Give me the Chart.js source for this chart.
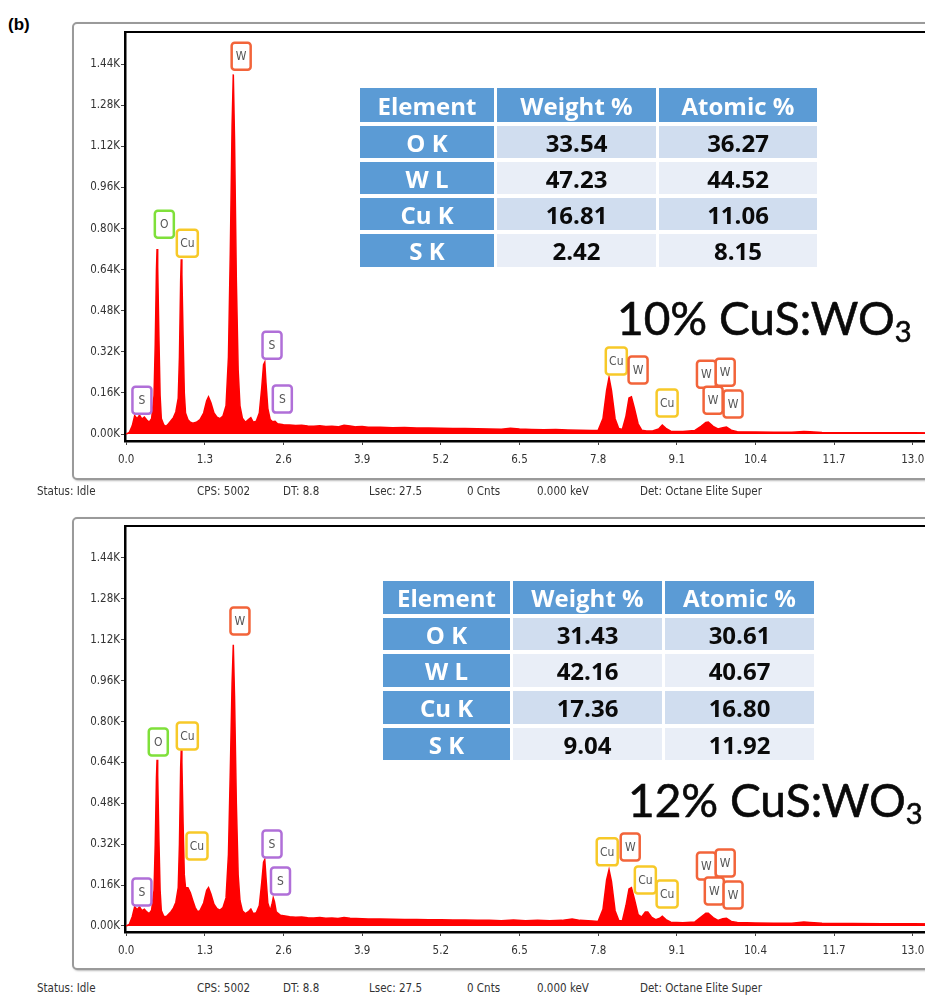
<!DOCTYPE html>
<html>
<head>
<meta charset="utf-8">
<script src="https://cdn.jsdelivr.net/npm/chart.js@4.4.1/dist/chart.umd.min.js"></script>
<style>
  html, body { margin:0; padding:0; background:#fff; width:925px; height:999px; overflow:hidden; position:relative; }
  .abs { position:absolute; }
  .frame { position:absolute; border:2px solid #9a9a9a; border-radius:5px; box-shadow:1px 1px 2px #bbb; background:#fff; }
  canvas { position:absolute; left:0; }
  .status { position:absolute; font-family:"DejaVu Sans Condensed","DejaVu Sans",sans-serif; font-size:11.5px; color:#333; white-space:nowrap; }
  .tbl { position:absolute; display:grid; font-family:"Open Sans",sans-serif; font-weight:700; }
  .tbl div { display:flex; align-items:center; justify-content:center; font-size:24px; }
  .hd { background:#5b9bd5; color:#fff; }
  .el { background:#5b9bd5; color:#fff; }
  .r1 { background:#d0ddef; color:#0a0a0a; }
  .r2 { background:#e9eef7; color:#0a0a0a; }
  .big { position:absolute; font-family:Lato,sans-serif; font-size:46px; color:#0a0a0a; white-space:nowrap; line-height:1; -webkit-text-stroke:0.6px #0a0a0a; }
  .big sub { font-size:29px; vertical-align:-7px; line-height:0; }
</style>
</head>
<body>
<div class="abs" style="left:8px;top:15px;font-family:'Liberation Sans',Arial,sans-serif;font-weight:700;font-size:17px;">(b)</div>

<div class="frame" style="left:72px;top:22px;width:900px;height:454px;"></div>
<div class="frame" style="left:72px;top:517px;width:900px;height:449px;"></div>

<canvas id="c1" width="960" height="480" style="top:0px"></canvas>
<canvas id="c2" width="960" height="480" style="top:494px"></canvas>

<div id="overlay"></div>

<script>
// ---------------- DATA ----------------
const xTickValues = [0, 1.3, 2.6, 3.9, 5.2, 6.5, 7.8, 9.1, 10.4, 11.7, 13.0];
const xTickLabels = ['0.0','1.3','2.6','3.9','5.2','6.5','7.8','9.1','10.4','11.7','13.0'];
const yTickValues = [0, 160, 320, 480, 640, 800, 960, 1120, 1280, 1440];
const yTickLabels = ['0.00K','0.16K','0.32K','0.48K','0.64K','0.80K','0.96K','1.12K','1.28K','1.44K'];

// Spectrum 1: 10% CuS:WO3 (energy keV, counts)
const energy10 = [0.00,0.05,0.10,0.14,0.18,0.22,0.26,0.30,0.34,0.38,0.42,0.46,0.48,0.50,0.51,0.52,0.54,0.56,0.58,0.62,0.66,0.70,0.74,0.78,0.82,0.86,0.88,0.90,0.91,0.92,0.94,0.96,0.98,1.02,1.06,1.10,1.16,1.22,1.28,1.33,1.36,1.40,1.45,1.50,1.55,1.60,1.65,1.69,1.72,1.75,1.77,1.79,1.82,1.85,1.88,1.92,1.97,2.02,2.06,2.10,2.15,2.20,2.24,2.27,2.29,2.31,2.34,2.38,2.42,2.46,2.50,2.60,2.70,2.80,2.90,3.00,3.10,3.20,3.30,3.40,3.50,3.60,3.70,3.80,3.90,4.00,4.20,4.40,4.60,4.80,5.00,5.20,5.40,5.60,5.80,6.00,6.20,6.35,6.50,6.70,6.90,7.10,7.30,7.50,7.70,7.80,7.88,7.94,7.98,8.02,8.08,8.14,8.20,8.26,8.31,8.35,8.40,8.46,8.52,8.60,8.70,8.80,8.86,8.92,9.00,9.20,9.40,9.50,9.58,9.62,9.70,9.78,9.86,9.92,10.00,10.10,10.40,10.70,11.00,11.20,11.30,11.50,12.00,12.50,13.00,13.50];
const counts10 = [0,6,32,72,60,74,58,66,55,46,60,150,350,640,720,650,380,150,60,36,30,40,52,64,86,140,300,600,680,620,380,160,82,56,46,42,46,56,82,130,145,122,82,66,60,70,110,300,700,1200,1400,1150,600,250,110,62,46,56,64,46,50,82,180,270,280,200,100,56,48,50,40,36,35,33,34,31,30,32,29,30,28,34,31,28,29,27,27,25,26,24,24,23,22,22,21,20,19,23,20,18,17,18,16,15,14,15,60,170,220,170,60,22,18,70,140,145,100,40,15,12,12,20,35,22,11,10,14,30,45,47,30,20,25,27,15,9,8,7,7,10,9,6,5,5,5,4];

// Spectrum 2: 12% CuS:WO3
const energy12 = [0.00,0.05,0.10,0.14,0.18,0.22,0.26,0.30,0.34,0.38,0.42,0.46,0.48,0.50,0.51,0.52,0.54,0.56,0.58,0.62,0.66,0.70,0.74,0.78,0.82,0.86,0.88,0.90,0.91,0.92,0.94,0.96,0.98,1.02,1.06,1.10,1.14,1.18,1.22,1.28,1.33,1.36,1.40,1.45,1.50,1.55,1.60,1.65,1.69,1.72,1.75,1.77,1.79,1.82,1.85,1.88,1.92,1.97,2.02,2.06,2.10,2.15,2.20,2.24,2.27,2.29,2.31,2.34,2.38,2.41,2.43,2.45,2.48,2.55,2.70,2.80,2.90,3.00,3.10,3.20,3.30,3.40,3.50,3.60,3.70,3.80,3.90,4.00,4.20,4.40,4.60,4.80,5.00,5.20,5.40,5.60,5.80,6.00,6.20,6.40,6.60,6.80,7.00,7.20,7.37,7.50,7.70,7.80,7.88,7.94,7.98,8.02,8.08,8.14,8.20,8.26,8.31,8.35,8.40,8.46,8.52,8.58,8.62,8.68,8.75,8.82,8.86,8.92,9.00,9.20,9.40,9.50,9.58,9.62,9.70,9.78,9.86,9.92,10.00,10.10,10.40,10.70,11.00,11.20,11.30,11.50,12.00,12.50,13.00,13.50];
const counts12 = [0,6,36,76,64,75,60,66,55,48,62,140,320,580,650,590,340,140,60,38,36,46,56,70,92,150,320,620,690,640,400,200,150,150,130,100,72,56,60,90,140,150,125,85,68,62,72,110,280,600,950,1100,900,480,200,100,60,48,56,66,48,52,80,170,250,260,190,90,60,85,110,95,55,42,36,34,35,32,31,33,30,31,29,33,30,29,28,27,27,26,25,25,24,24,23,23,22,22,21,23,21,22,21,22,27,22,20,18,65,180,220,175,60,22,20,80,145,150,105,45,35,55,55,35,25,30,38,25,15,13,16,35,50,50,33,22,28,30,18,14,12,11,11,16,14,11,10,9,9,8];

// Peak identification labels (energy keV, counts at label centre, element)
const peakLabelEnergy10 = [1.90,0.63,1.01,0.26,2.41,2.58,8.10,8.46,8.94,9.59,9.90,9.70,10.03];
const peakLabelCounts10 = [1471,817,743,132,346,136,284,249,121,233,241,132,117];
const peakLabelText10   = ['W','O','Cu','S','S','S','Cu','W','Cu','W','W','W','W'];

const peakLabelEnergy12 = [1.88,0.53,1.01,1.17,0.26,2.41,2.55,7.95,8.33,8.58,8.94,9.59,9.90,9.72,10.03];
const peakLabelCounts12 = [1193,720,743,313,133,321,176,290,309,180,125,235,246,137,121];
const peakLabelText12   = ['W','O','Cu','Cu','S','S','S','Cu','W','Cu','Cu','W','W','W','W'];

// Quantification tables
const tableHeader = ['Element','Weight %','Atomic %'];
const tableElements = ['O K','W L','Cu K','S K'];
const weight10 = ['33.54','47.23','16.81','2.42'];
const atomic10 = ['36.27','44.52','11.06','8.15'];
const weight12 = ['31.43','42.16','17.36','9.04'];
const atomic12 = ['30.61','40.67','16.80','11.92'];

const sampleNames = ['10% CuS:WO', '12% CuS:WO'];
const statusItems = ['Status: Idle','CPS: 5002','DT: 8.8','Lsec: 27.5','0 Cnts','0.000 keV','Det: Octane Elite Super'];

// ---------------- STYLE ----------------
const labelColors = { W:'#f2643a', O:'#7fe03a', Cu:'#f7c928', S:'#b06fd8' };
const tickFont = { family: '"DejaVu Sans Condensed", "DejaVu Sans", sans-serif', size: 11.5 };

function makePlugin(lx, ly, lt) {
  return {
    id: 'peakLabels',
    afterDatasetsDraw(chart) {
      const ctx = chart.ctx, xs = chart.scales.x, ys = chart.scales.y, a = chart.chartArea;
      ctx.save();
      ctx.strokeStyle = '#000'; ctx.lineWidth = 2;
      ctx.beginPath(); ctx.moveTo(a.left, a.top); ctx.lineTo(a.right, a.top); ctx.stroke();
      ctx.font = '12px "DejaVu Sans Condensed", "DejaVu Sans", sans-serif';
      ctx.textAlign = 'center'; ctx.textBaseline = 'middle';
      for (let i = 0; i < lx.length; i++) {
        const cx = xs.getPixelForValue(lx[i]), cy = ys.getPixelForValue(ly[i]);
        const w = lt[i] === 'Cu' ? 21 : 19, h = 27;
        ctx.fillStyle = '#fff';
        ctx.strokeStyle = labelColors[lt[i]];
        ctx.lineWidth = 2.5;
        ctx.beginPath();
        ctx.roundRect(cx - w/2, cy - h/2, w, h, 3);
        ctx.fill(); ctx.stroke();
        ctx.fillStyle = '#555';
        ctx.fillText(lt[i], cx, cy + 1);
      }
      ctx.restore();
    }
  };
}

function makeChart(id, ex, cts, ymin, xAxisH, lx, ly, lt) {
  const pts = ex.map((e, i) => ({ x: e, y: cts[i] }));
  return new Chart(document.getElementById(id), {
    type: 'line',
    data: { datasets: [{ data: pts, borderColor: '#ff0000', backgroundColor: '#ff0000', borderWidth: 1.5, pointRadius: 0, fill: 'origin', tension: 0 }] },
    options: {
      responsive: false, animation: false, devicePixelRatio: 1,
      layout: { padding: { top: 32, right: 20, left: 0, bottom: 0 } },
      plugins: { legend: { display: false }, tooltip: { enabled: false } },
      scales: {
        x: {
          type: 'linear', min: -0.02, max: 13.45,
          afterFit: s => { s.height = xAxisH; },
          afterBuildTicks: s => { s.ticks = xTickValues.map(v => ({ value: v })); },
          ticks: { callback: (v) => { const k = xTickValues.findIndex(t => Math.abs(t - v) < 1e-6); return k >= 0 ? xTickLabels[k] : ''; },
                   font: tickFont, color: '#333', padding: 8, maxRotation: 0, autoSkip: false },
          grid: { drawOnChartArea: false, drawTicks: true, tickLength: 4, tickColor: '#444' },
          border: { display: true, color: '#000', width: 2.5 }
        },
        y: {
          type: 'linear', min: ymin, max: 1565,
          afterFit: s => { s.width = 125; },
          afterBuildTicks: s => { s.ticks = yTickValues.map(v => ({ value: v })); },
          ticks: { callback: (v) => { const k = yTickValues.indexOf(v); return k >= 0 ? yTickLabels[k] : ''; },
                   font: tickFont, color: '#333', padding: 1, autoSkip: false },
          grid: { drawOnChartArea: false, drawTicks: true, tickLength: 4, tickColor: '#444' },
          border: { display: true, color: '#000', width: 2.5 }
        }
      }
    },
    plugins: [makePlugin(lx, ly, lt)]
  });
}

makeChart('c1', energy10, counts10, -27, 39, peakLabelEnergy10, peakLabelCounts10, peakLabelText10);
makeChart('c2', energy12, counts12, -23.5, 42, peakLabelEnergy12, peakLabelCounts12, peakLabelText12);

// ---------------- OVERLAYS ----------------
const ov = document.getElementById('overlay');
function addTable(left, top, cols, rows, weight, atomic) {
  const t = document.createElement('div');
  t.className = 'tbl';
  t.style.left = left + 'px'; t.style.top = top + 'px';
  t.style.gridTemplateColumns = cols.map(c => c + 'px').join(' ');
  t.style.gridTemplateRows = rows.map(r => r + 'px').join(' ');
  t.style.columnGap = '3px'; t.style.rowGap = '4px';
  tableHeader.forEach(h => { const d = document.createElement('div'); d.className = 'hd'; d.textContent = h; t.appendChild(d); });
  tableElements.forEach((el, i) => {
    const cls = i % 2 === 0 ? 'r1' : 'r2';
    const a = document.createElement('div'); a.className = 'el'; a.textContent = el; t.appendChild(a);
    const b = document.createElement('div'); b.className = cls; b.textContent = weight[i]; t.appendChild(b);
    const c = document.createElement('div'); c.className = cls; c.textContent = atomic[i]; t.appendChild(c);
  });
  ov.appendChild(t);
}
addTable(360, 88, [134, 159, 158], [34, 32, 32, 32, 33], weight10, atomic10);
addTable(383, 581, [127, 149, 149], [33, 32, 33, 33, 32], weight12, atomic12);

function addBig(left, top, txt) {
  const d = document.createElement('div');
  d.className = 'big'; d.style.left = left + 'px'; d.style.top = top + 'px';
  d.innerHTML = txt + '<sub>3</sub>';
  ov.appendChild(d);
}
addBig(617, 295, sampleNames[0]);
addBig(628, 777, sampleNames[1]);

const statusX = [37, 197, 283, 369, 467, 537, 640];
function addStatus(y) {
  statusItems.forEach((s, i) => {
    const d = document.createElement('div'); d.className = 'status';
    d.style.left = statusX[i] + 'px'; d.style.top = y + 'px'; d.textContent = s;
    ov.appendChild(d);
  });
}
addStatus(484);
addStatus(981);
</script>
</body>
</html>
